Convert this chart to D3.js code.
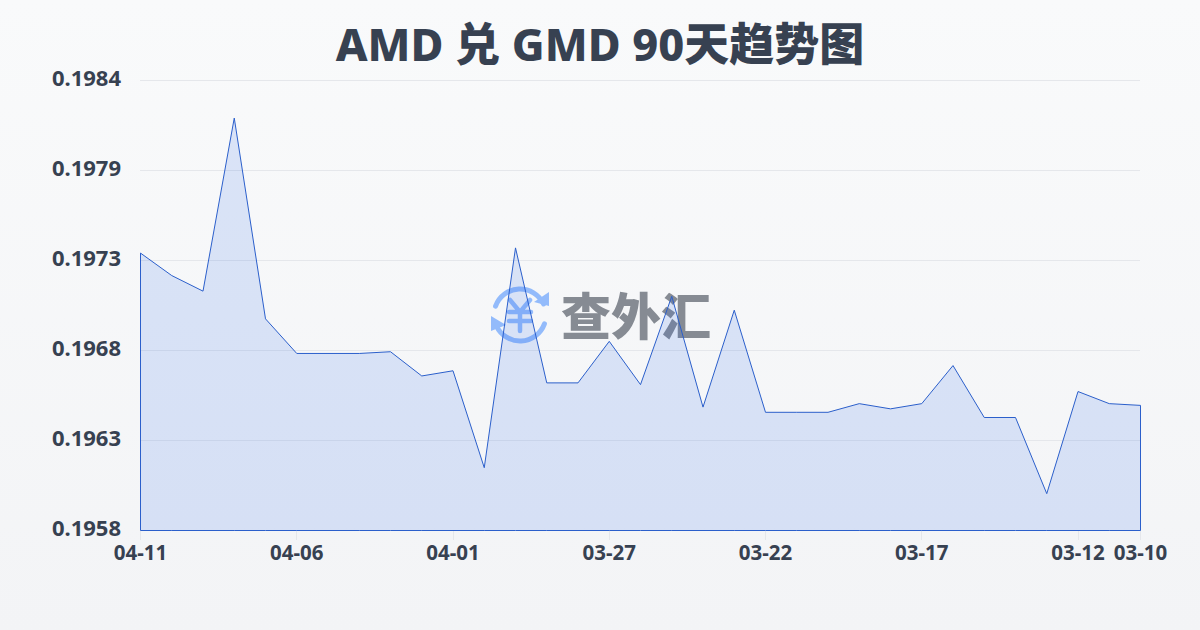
<!DOCTYPE html>
<html><head><meta charset="utf-8">
<script src="https://cdn.jsdelivr.net/npm/d3@7/dist/d3.min.js"></script>
<style>html,body{margin:0;padding:0;width:1200px;height:630px;overflow:hidden}
text{font-family:"Noto Sans","Noto Sans CJK SC",sans-serif}</style></head><body>
<svg id="c" width="1200" height="630"></svg>
<script>
const titleText = "AMD 兑 GMD 90天趋势图";
const dates = ["04-11","04-10","04-09","04-08","04-07","04-06","04-05","04-04","04-03","04-02","04-01","03-31","03-30","03-29","03-28","03-27","03-26","03-25","03-24","03-23","03-22","03-21","03-20","03-19","03-18","03-17","03-16","03-15","03-14","03-13","03-12","03-11","03-10"];
const rates = [0.19740,0.19727,0.19718,0.19818,0.19702,0.19682,0.19682,0.19682,0.19683,0.19669,0.19672,0.19616,0.19743,0.19665,0.19665,0.19689,0.19664,0.19715,0.19651,0.19707,0.19648,0.19648,0.19648,0.19653,0.19650,0.19653,0.19675,0.19645,0.19645,0.19601,0.19660,0.19653,0.19652];
const yTicks = [0.1958,0.19632,0.19684,0.19736,0.19788,0.1984];
const yTickLabels = ["0.1958","0.1963","0.1968","0.1973","0.1979","0.1984"];
const xTickLabels = ["04-11","04-06","04-01","03-27","03-22","03-17","03-12","03-10"];
const watermarkText = "查外汇";

const svg = d3.select("#c");
const defs = svg.append("defs");
const bg = defs.append("linearGradient").attr("id","bg").attr("x1",0).attr("y1",0).attr("x2",0).attr("y2",1);
bg.append("stop").attr("offset",0).attr("stop-color","#f9fafb");
bg.append("stop").attr("offset",1).attr("stop-color","#f3f4f6");
svg.append("rect").attr("width",1200).attr("height",630).attr("fill","url(#bg)");

const x = d3.scalePoint().domain(dates).range([140.5,1140.5]);
const y = d3.scaleLinear().domain([0.1958,0.1984]).range([530.5,80.5]);
const yLine = d3.scaleLinear().domain([0.1958,0.1984]).range([530,80]);

svg.append("text").attr("x",600).attr("y",61).attr("text-anchor","middle")
  .attr("font-size",45).attr("font-weight",800).attr("fill","#374151").text(titleText);

svg.append("g").selectAll("line").data(yTicks).join("line")
  .attr("x1",140).attr("x2",1140).attr("y1",d=>Math.floor(y(d))+.5).attr("y2",d=>Math.floor(y(d))+.5)
  .attr("stroke","#e5e7eb").attr("stroke-width",1);

svg.append("g").selectAll("text").data(yTicks).join("text")
  .attr("x",121).attr("y",d=>y(d)-2.5).attr("dy","0.35em").attr("text-anchor","end")
  .attr("font-size",22).attr("font-weight",700).attr("fill","#374151").text((d,i)=>yTickLabels[i]);

svg.append("g").selectAll("line").data(xTickLabels).join("line")
  .attr("x1",d=>Math.floor(x(d))+.5).attr("x2",d=>Math.floor(x(d))+.5).attr("y1",530).attr("y2",540)
  .attr("stroke","#e5e7eb");
svg.append("g").selectAll("text").data(xTickLabels).join("text")
  .attr("x",d=>x(d)).attr("y",560).attr("text-anchor","middle")
  .attr("font-size",20.5).attr("font-weight",700).attr("fill","#374151").text(d=>d);

// watermark
const wm = svg.append("g");
const cx=520, cy=315, blue="#93bbfb";
const pt=(a,r)=>[cx+r*Math.cos(a*Math.PI/180),cy+r*Math.sin(a*Math.PI/180)];
const arc=(a0,a1,r)=>{const p0=pt(a0,r),p1=pt(a1,r);return `M${p0}A${r},${r} 0 0 1 ${p1}`;};
wm.append("path").attr("d",arc(-160,-25,26)).attr("fill","none").attr("stroke",blue).attr("stroke-width",5).attr("stroke-linecap","round");
wm.append("path").attr("d",arc(20,155,26)).attr("fill","none").attr("stroke",blue).attr("stroke-width",5).attr("stroke-linecap","round");
wm.append("path").attr("d","M549,306L549,292L534,302Z").attr("fill",blue);
wm.append("path").attr("d","M491,316L491,331L506,325Z").attr("fill",blue);
wm.append("path").attr("d",`M${cx-10},${cy-15}L${cx},${cy-3}L${cx+10},${cy-15}M${cx},${cy-3}V${cy+16}M${cx-11},${cy-3}H${cx+11}M${cx-11},${cy+6}H${cx+11}`)
  .attr("fill","none").attr("stroke",blue).attr("stroke-width",4.5).attr("stroke-linecap","round");
wm.append("text").attr("x",636).attr("y",335).attr("text-anchor","middle")
  .style("font-family",'"Noto Sans CJK SC"')
  .attr("font-size",50).attr("font-weight",900).attr("fill","#868b93").text(watermarkText);

const area = d3.area().x(d=>x(d.k)).y0(530.5).y1(d=>yLine(d.v));
const pts = dates.map((k,i)=>({k,v:rates[i]}));
svg.append("path").datum(pts).attr("d",area).attr("fill","#2563eb").attr("fill-opacity",0.14);
svg.append("path").datum(pts).attr("d",area)
  .attr("fill","none").attr("stroke","#2b5fcb").attr("stroke-width",1);
</script></body></html>
